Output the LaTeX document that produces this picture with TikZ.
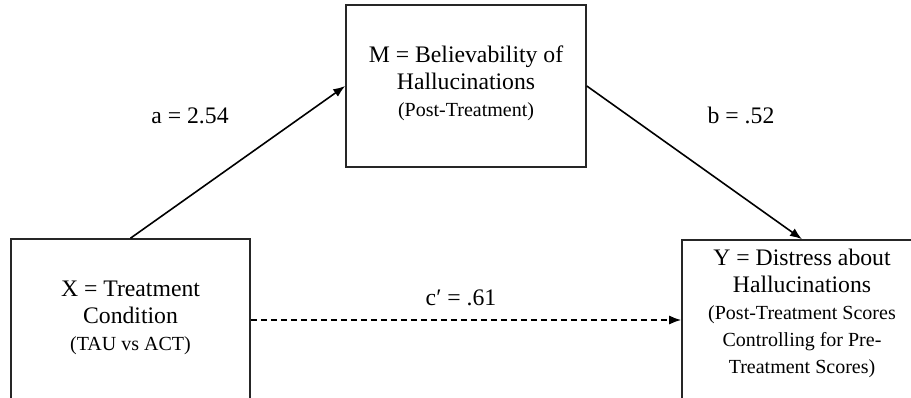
\documentclass[tikz,border=0pt]{standalone}
\usepackage{fontspec}
\setmainfont{Liberation Serif}
\usetikzlibrary{arrows.meta}
\newcommand{\bigf}{\fontsize{23.7}{27}\selectfont}
\newcommand{\smallf}{\fontsize{20}{24}\selectfont}
\tikzset{
  boxnode/.style={draw=black!85, line width=1.6pt, rectangle, inner sep=0pt},
  txtnode/.style={align=center, inner sep=0pt, font=\bigf},
  lbl/.style={inner sep=0pt, font=\bigf, anchor=base},
  conn/.style={line width=1.6pt, -{Latex[length=12pt,width=9pt]}},
}
\begin{document}
\begin{tikzpicture}[x=1pt,y=-1pt]
\useasboundingbox (0,0) rectangle (911,397);
\clip (0,0) rectangle (911,397);
% boxes
\node[boxnode, minimum width=240pt, minimum height=162pt] (M) at (466,86) {};
\node[boxnode, minimum width=239pt, minimum height=162pt] (X) at (130.5,320) {};
\node[boxnode, minimum width=240pt, minimum height=160pt] (Y) at (802,320) {};
% texts
\node[txtnode] (Mt) at (466,83) {M = Believability of\\Hallucinations\\\smallf (Post-Treatment)};
\node[txtnode] (Xt) at (130.5,318) {X = Treatment\\Condition\\\smallf (TAU vs ACT)};
\node[txtnode] (Yt) at (802,313) {Y = Distress about\\Hallucinations\\\smallf (Post-Treatment Scores\\\smallf Controlling for Pre-\\\smallf Treatment Scores)};
% connectors
\draw[conn] (X.north) -- (M.west);
\draw[conn] (M.east) -- (Y.north);
\draw[conn, dash pattern=on 6pt off 4pt] (X.east) -- (Y.west);
% labels
\node[lbl] (la) at (190,123) {a = 2.54};
\node[lbl] (lb) at (741,123) {b = .52};
\node[lbl] (lc) at (461,305) {c′ = .61};
\end{tikzpicture}
\end{document}
